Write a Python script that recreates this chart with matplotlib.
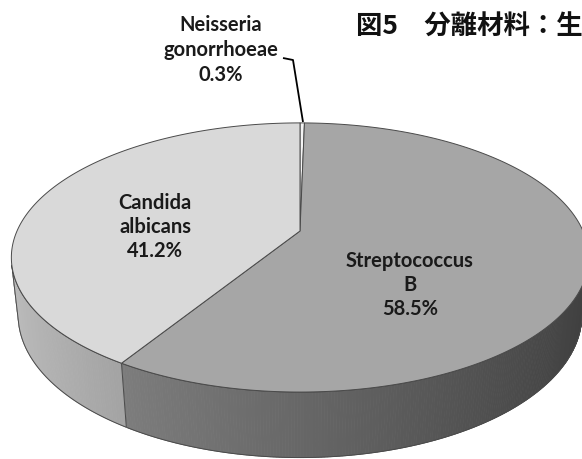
import numpy as np
import matplotlib
matplotlib.use("Agg")
import matplotlib.pyplot as plt
from matplotlib.patches import Polygon

# ---- data ----
categories = ["Neisseria\ngonorrhoeae", "Streptococcus\nB", "Candida\nalbicans"]
values = [0.3, 58.5, 41.2]
top_colors = ["#f4f4f4", "#a6a6a6", "#d9d9d9"]
title = "図5　分離材料：生"

# ---- projection (3D pie with perspective) ----
cx, cy, f = 300.0, 232.0, 283.0
alpha = np.deg2rad(27.2)
s_a, c_a = np.sin(alpha), np.cos(alpha)
D = 4.52
thick = 0.23

def proj(x, u, h):
    zc = u * c_a + h * s_a
    yup = -u * s_a + h * c_a
    sc = D / (D - zc)
    return cx + f * x * sc, cy - f * yup * sc

def rim(psi_deg, h):
    p = np.deg2rad(psi_deg)
    return proj(np.sin(p), -np.cos(p), h)

fig = plt.figure(figsize=(5.82, 4.60), dpi=100)
ax = fig.add_axes([0, 0, 1, 1])
ax.set_xlim(0, 582)
ax.set_ylim(460, 0)
ax.axis("off")

fracs = np.array(values) / np.sum(values)
bounds = np.concatenate([[0], np.cumsum(fracs) * 360])

edge = "#4a4a4a"
lim = np.rad2deg(np.arccos(-1.0 / (D * c_a)))
vis_lo, vis_hi = lim, 360 - lim

def shade(hexcol, nx):
    rgb = np.array(matplotlib.colors.to_rgb(hexcol))
    k = 0.87 - 0.5 * (nx + 1) / 2
    return np.clip(rgb * k, 0, 1)

for i in range(len(values)):
    a0, a1 = max(bounds[i], vis_lo), min(bounds[i + 1], vis_hi)
    if a1 <= a0:
        continue
    ps = np.linspace(a0, a1, max(int((a1 - a0) * 2), 2))
    for j in range(len(ps) - 1):
        q = [rim(ps[j], 0), rim(ps[j + 1], 0), rim(ps[j + 1], -thick), rim(ps[j], -thick)]
        nx = np.sin(np.deg2rad((ps[j] + ps[j + 1]) / 2))
        col = shade(top_colors[i], nx)
        ax.add_patch(Polygon(q, closed=True, facecolor=col, edgecolor=col, lw=0.6))
    top = [rim(p, 0) for p in ps]
    bot = [rim(p, -thick) for p in ps[::-1]]
    ax.add_patch(Polygon(top + bot, closed=True, facecolor="none", edgecolor=edge, lw=0.7))

center = proj(0, 0, 0)
for i in range(len(values)):
    ps = np.linspace(bounds[i], bounds[i + 1], max(int((bounds[i + 1] - bounds[i]) * 2), 3))
    pts = [center] + [rim(p, 0) for p in ps]
    ax.add_patch(Polygon(pts, closed=True, facecolor=top_colors[i], edgecolor=edge, lw=0.7))

lab_font = dict(family=["Lato", "DejaVu Sans"], fontweight="bold", fontsize=14.5, color="#1a1a1a",
                ha="center", va="center")
pct = [f"{v:.1f}%" for v in values]
ax.text(221, 50, categories[0] + "\n" + pct[0], linespacing=1.3, **lab_font)
ax.text(410, 285, categories[1] + "\n" + pct[1], linespacing=1.22, **lab_font)
ax.text(155, 227, categories[2] + "\n" + pct[2], linespacing=1.22, **lab_font)

ax.plot([283, 293, 303], [59, 61, 123], color="black", lw=1.3, solid_capstyle="butt")

ax.text(356, 27, title, family=["Noto Sans CJK JP", "DejaVu Sans"], fontweight="bold",
        fontsize=19, ha="left", va="center", color="#111111")

fig.savefig("out.png", dpi=100)
